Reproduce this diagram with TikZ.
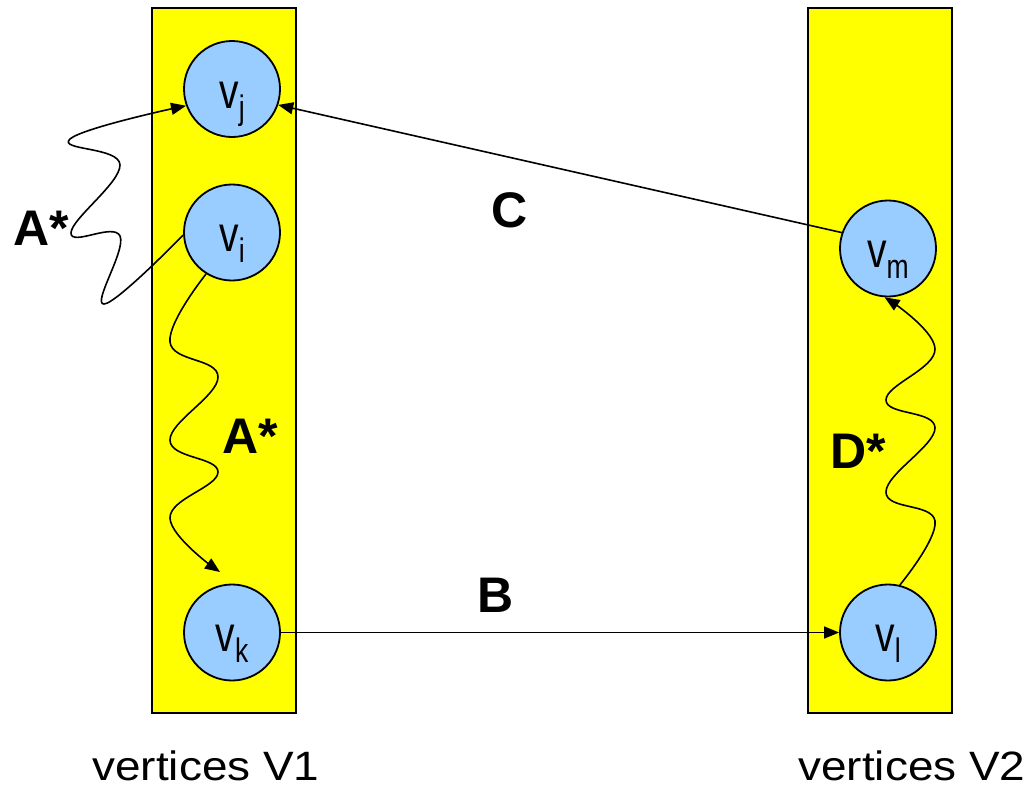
\documentclass[tikz,border=0pt]{standalone}
\usepackage{fontspec}
\setmainfont{Liberation Sans}
\usetikzlibrary{arrows.meta}
\definecolor{ybox}{RGB}{255,255,0}
\definecolor{vblue}{RGB}{153,204,255}
\newcommand{\vsub}[1]{\scalebox{0.78}[1]{v\raisebox{-11pt}[0pt][0pt]{\fontsize{34}{34}\selectfont #1}}}
\begin{document}
\begin{tikzpicture}[x=1pt,y=-1pt,
  colbox/.style={draw=black, line width=2.5pt, fill=ybox},
  vert/.style={circle, draw=black, line width=1.8pt, fill=vblue, minimum size=96pt,
    inner sep=0pt, text height=38pt, text depth=0pt, font=\fontsize{50}{50}\selectfont},
  lbl/.style={font=\fontsize{50}{50}\selectfont\bfseries, inner sep=0pt},
  captxt/.style={font=\fontsize{41}{41}\selectfont, inner sep=0pt},
  conn/.style={line width=1.6pt, -{Triangle[length=15pt,width=12pt]}},
]
\useasboundingbox (0,0) rectangle (1034,790);
% columns
\draw[colbox] (152,8) rectangle (296,713);
\draw[colbox] (808,8) rectangle (952,713);
% vertices
\node[vert] (vj) at (232,89) {\vsub{j}};
\node[vert] (vi) at (232,232.5) {\vsub{i}};
\node[vert] (vk) at (232,632.5) {\vsub{k}};
\node[vert] (vm) at (888,248.5) {\vsub{m}};
\node[vert] (vl) at (888,632.5) {\vsub{l}};
\coordinate (akend) at (220,572);
% connectors
\draw[conn] (vm.161) -- (vj.-19);
\draw[conn] (vk.east) -- (vl.west);
\draw[conn] plot[smooth, tension=0.7] coordinates {(vi.183) (104,304) (120,236) (71,233) (120,165) (70,139) (vj.200)};
\draw[conn] plot[smooth, tension=0.7] coordinates {(vi.238) (170,342) (218,377) (170,440) (218,472) (170,518) (akend)};
\draw[conn] plot[smooth, tension=0.7] coordinates {(vl.76) (935,521) (886,492) (935,428) (886,400) (935,349) (vm.266)};
% labels
\node[lbl] (la1) at (41,228) {A*};
\node[lbl] (la2) at (250,436) {A*};
\node[lbl] (lc) at (510,210) {C};
\node[lbl] (lb) at (496,595) {B};
\node[lbl] (ld) at (858,451) {D*};
\node[captxt] (c1) at (206,766) {\scalebox{1.12}[1]{vertices V1}};
\node[captxt] (c2) at (912,766) {\scalebox{1.12}[1]{vertices V2}};
\end{tikzpicture}
\end{document}
